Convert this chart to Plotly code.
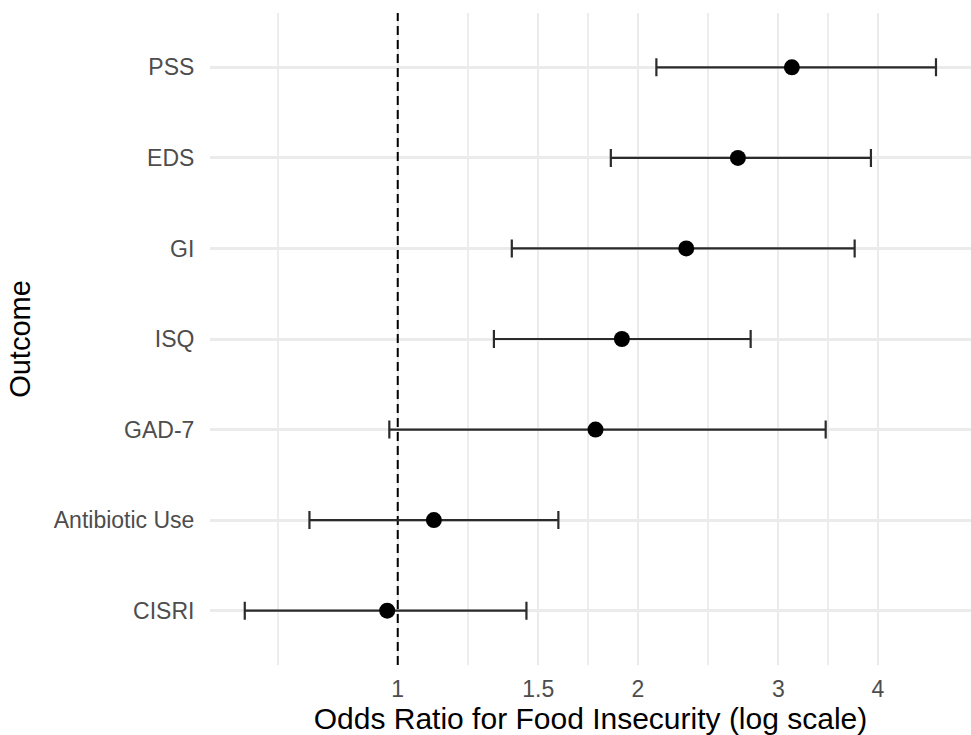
import plotly.graph_objects as go

outcomes = ["CISRI", "Antibiotic Use", "GAD-7", "ISQ", "GI", "EDS", "PSS"]
odds_ratio = [0.97, 1.11, 1.77, 1.91, 2.30, 2.67, 3.12]
ci_low = [0.643, 0.775, 0.976, 1.32, 1.39, 1.85, 2.11]
ci_high = [1.45, 1.59, 3.44, 2.77, 3.74, 3.92, 4.73]

major_ticks = [1, 1.5, 2, 3, 4]
major_labels = ["1", "1.5", "2", "3", "4"]
minor_ticks = [0.7071, 1.2247, 1.7321, 2.4495, 3.4641]
ref_value = 1

ypos = list(range(len(outcomes)))

fig = go.Figure()

fig.add_trace(go.Scatter(
    x=[ref_value, ref_value], y=[-0.6, len(outcomes) - 0.4],
    mode="lines", line=dict(color="black", width=2, dash="9px,5px"),
    hoverinfo="skip", showlegend=False,
))

fig.add_trace(go.Scatter(
    x=odds_ratio, y=ypos, mode="markers",
    marker=dict(color="black", size=16),
    error_x=dict(
        type="data", symmetric=False,
        array=[h - p for h, p in zip(ci_high, odds_ratio)],
        arrayminus=[p - l for p, l in zip(odds_ratio, ci_low)],
        color="#2b2b2b", thickness=2.2, width=9,
    ),
    showlegend=False,
))

fig.update_layout(
    width=971, height=735,
    margin=dict(l=210, r=0, t=13, b=70),
    plot_bgcolor="white", paper_bgcolor="white",
    font=dict(family="Liberation Sans, Arial, sans-serif", color="black"),
    xaxis=dict(
        type="log",
        range=[-0.542 / 2.302585, 1.655 / 2.302585],
        tickmode="array", tickvals=major_ticks, ticktext=major_labels,
        showgrid=True, gridcolor="#EBEBEB", gridwidth=2,
        minor=dict(tickmode="array", tickvals=minor_ticks, showgrid=True,
                   gridcolor="#EDEDED", gridwidth=1.6, ticks=""),
        zeroline=False, showline=False,
        ticks="outside", ticklen=3, tickcolor="rgba(0,0,0,0)",
        tickfont=dict(size=23, color="#4D4D4D"),
        title=dict(text="Odds Ratio for Food Insecurity (log scale)",
                   font=dict(size=30, color="black"), standoff=2),
    ),
    yaxis=dict(
        range=[-0.6, len(outcomes) - 0.4],
        tickmode="array", tickvals=ypos, ticktext=outcomes,
        showgrid=True, gridcolor="#EBEBEB", gridwidth=2.5,
        zeroline=False, showline=False,
        ticks="outside", ticklen=10, tickcolor="rgba(0,0,0,0)",
        tickfont=dict(size=23, color="#4D4D4D"),
        title=dict(text="Outcome", font=dict(size=29, color="black"), standoff=14),
    ),
)

fig.write_html("out.html", config={"displayModeBar": False},
               post_script="document.body.style.margin='0';")
